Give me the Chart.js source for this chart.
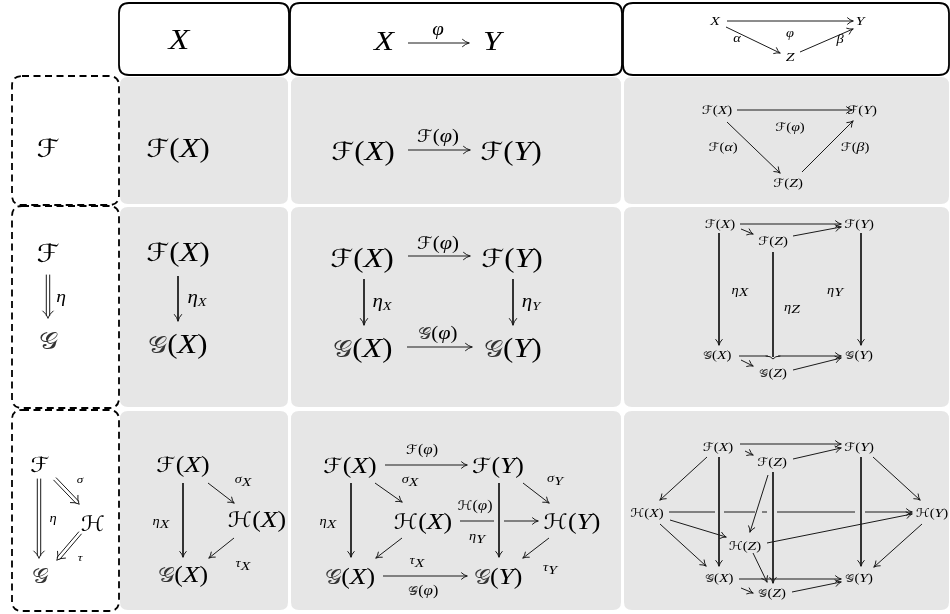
<!DOCTYPE html>
<html><head><meta charset="utf-8">
<script src="https://cdn.jsdelivr.net/npm/chart.js@4.4.1/dist/chart.umd.min.js"></script>
<style>html,body{margin:0;padding:0;background:#fff}canvas{display:block}</style>
</head><body>
<canvas id="c" width="950" height="614"></canvas>
<script>
// ---------- table structure ----------
const columnEdges = [[120, 288], [291, 621], [624, 949]];
const rowEdges = [[77, 204], [207, 407], [411, 610]];
const headerEdges = [[119, 289], [290, 622], [623, 949]];
const headerRow = [3, 75];
const rowLabelX = [12, 119];
const rowLabelEdges = [[76, 205], [206, 408], [410, 611]];

// ---------- text (objects of the diagrams) ----------
const headerText = [
  {t:'X', x:179, y:40, s:26},
  {t:'X', x:384, y:41, s:25}, {t:'Y', x:492, y:41, s:25}, {t:'φ', x:438, y:30, s:16},
  {t:'X', x:715, y:21, s:12}, {t:'Y', x:860, y:21, s:12}, {t:'Z', x:790, y:57, s:12},
  {t:'φ', x:790, y:33, s:11}, {t:'α', x:737, y:38, s:11}, {t:'β', x:840, y:39, s:11}
];
const row1Text = [
  {t:'F', x:48, y:148, s:25},
  {t:'F(X)', x:178, y:148, s:25},
  {t:'F(X)', x:363, y:151, s:25}, {t:'F(Y)', x:511, y:151, s:25}, {t:'F(φ)', x:438, y:136, s:17},
  {t:'F(X)', x:717, y:110, s:12}, {t:'F(Y)', x:862, y:110, s:12}, {t:'F(Z)', x:788, y:183, s:12},
  {t:'F(φ)', x:790, y:127, s:12}, {t:'F(α)', x:723, y:147, s:12}, {t:'F(β)', x:855, y:147, s:12}
];
const row2Text = [
  {t:'F', x:48, y:253, s:25}, {t:'G', x:48, y:340, s:25}, {t:'η', x:61, y:297, s:15},
  {t:'F(X)', x:178, y:252, s:25}, {t:'G(X)', x:178, y:344, s:25}, {t:'η_X', x:197, y:298, s:16, sub:[11, 3]},
  {t:'F(X)', x:362, y:258, s:25}, {t:'F(Y)', x:512, y:258, s:25}, {t:'F(φ)', x:438, y:243, s:17},
  {t:'η_X', x:382, y:302, s:16, sub:[11, 3]}, {t:'η_Y', x:531, y:302, s:16, sub:[11, 3]},
  {t:'G(X)', x:363, y:348, s:25}, {t:'G(Y)', x:513, y:348, s:25}, {t:'G(φ)', x:438, y:333, s:17},
  {t:'F(X)', x:720, y:224, s:12}, {t:'F(Z)', x:773, y:241, s:12}, {t:'F(Y)', x:859, y:224, s:12},
  {t:'G(X)', x:717, y:355, s:12}, {t:'G(Z)', x:773, y:373, s:12}, {t:'G(Y)', x:859, y:355, s:12},
  {t:'η_X', x:740, y:290, s:11, sub:[12, 2]}, {t:'η_Z', x:792, y:307, s:11, sub:[12, 2]}, {t:'η_Y', x:835, y:290, s:11, sub:[12, 2]}
];
const row3Text = [
  {t:'F', x:40, y:465, s:21}, {t:'H', x:93, y:524, s:21}, {t:'G', x:40, y:576, s:21},
  {t:'η', x:53, y:518, s:11}, {t:'σ', x:80, y:480, s:10}, {t:'τ', x:80, y:558, s:10},
  {t:'F(X)', x:183, y:465, s:21}, {t:'H(X)', x:257, y:520, s:21}, {t:'G(X)', x:183, y:575, s:21},
  {t:'η_X', x:161, y:521, s:11, sub:[12, 3]}, {t:'σ_X', x:243, y:479, s:11, sub:[12, 3]}, {t:'τ_X', x:243, y:563, s:11, sub:[12, 3]},
  {t:'F(X)', x:350, y:466, s:21}, {t:'F(Y)', x:498, y:466, s:21}, {t:'H(X)', x:423, y:522, s:21},
  {t:'H(Y)', x:572, y:522, s:21}, {t:'G(X)', x:350, y:577, s:21}, {t:'G(Y)', x:498, y:577, s:21},
  {t:'F(φ)', x:422, y:450, s:13}, {t:'H(φ)', x:475, y:506, s:13}, {t:'G(φ)', x:423, y:591, s:13},
  {t:'σ_X', x:410, y:479, s:11, sub:[12, 3]}, {t:'η_Y', x:477, y:536, s:11, sub:[12, 3]},
  {t:'σ_Y', x:555, y:478, s:11, sub:[12, 3]}, {t:'τ_X', x:417, y:560, s:11, sub:[12, 3]},
  {t:'τ_Y', x:550, y:567, s:11, sub:[12, 3]}, {t:'η_X', x:328, y:521, s:11, sub:[12, 3]},
  {t:'F(X)', x:718, y:447, s:12}, {t:'F(Z)', x:772, y:462, s:12}, {t:'F(Y)', x:859, y:447, s:12},
  {t:'H(X)', x:647, y:513, s:12}, {t:'H(Z)', x:745, y:546, s:12}, {t:'H(Y)', x:932, y:513, s:12},
  {t:'G(X)', x:719, y:578, s:12}, {t:'G(Z)', x:772, y:593, s:12}, {t:'G(Y)', x:859, y:578, s:12}
];

// ---------- morphisms (arrows: from -> to) ----------
const headerArrows = [
  {p:[408,43,469,43], h:7}, {p:[727,21,853,21]}, {p:[726,27,780,53]}, {p:[800,52,853,29]}
];
const row1Arrows = [
  {p:[408,150,470,150], h:7},
  {p:[737,110,852,110]}, {p:[727,122,780,173]}, {p:[802,172,853,121]}
];
const row2Arrows = [
  {p:[178,276,178,321], h:7},
  {p:[408,256,470,256], h:7}, {p:[364,279,364,325], h:7}, {p:[513,279,513,325], h:7}, {p:[407,347,472,347], h:7},
  {p:[740,224,841,224]}, {p:[741,229,753,234]}, {p:[793,236,841,227]},
  {p:[719,233,719,345]}, {p:[773,252,773,357], noHead:true}, {p:[861,233,861,345]},
  {p:[739,356,841,356], gaps:[[773,5]]}, {p:[741,360,753,366]}, {p:[793,370,841,358]}
];
const row3Arrows = [
  {p:[183,483,183,557]}, {p:[208,483,234,503]}, {p:[234,538,209,558]},
  {p:[385,465,467,465]}, {p:[351,483,351,557]}, {p:[499,483,499,557]},
  {p:[375,483,402,502]}, {p:[523,483,549,503]}, {p:[402,538,376,558]}, {p:[549,538,523,558]},
  {p:[383,576,467,576]}, {p:[460,521,538,521], gaps:[[499,5]]},
  {p:[740,444,841,444]}, {p:[745,451,753,455]}, {p:[793,459,841,448]},
  {p:[707,457,660,500]}, {p:[873,457,920,500]},
  {p:[719,457,719,566]}, {p:[861,457,861,566]},
  {p:[768,475,750,532]}, {p:[773,472,773,583]},
  {p:[669,512,912,512], gaps:[[719.5,4.5],[758.5,3.5],[772,5],[860,5]]},
  {p:[670,520,726,537]}, {p:[660,524,706,566]}, {p:[922,524,874,567]},
  {p:[767,543,912,514]}, {p:[753,553,767,582]},
  {p:[739,579,841,579]}, {p:[741,588,753,593]}, {p:[792,592,841,582]}
];
// 2-cells (natural transformations, double arrows)
const doubleArrows = [
  [48,275,48,318], [39,479,39,558], [55,479,79,504], [80,533,57,560]
];

const allText = [...headerText, ...row1Text, ...row2Text, ...row3Text];
const allArrows = [...headerArrows, ...row1Arrows, ...row2Arrows, ...row3Arrows];

// ---------- build line segments (with gaps for crossings) ----------
function segmentsOf(a) {
  const [x1,y1,x2,y2] = a.p;
  const cuts = (a.gaps || []).map(([c,h]) => [(c-h-x1)/(x2-x1), (c+h-x1)/(x2-x1)]).sort((u,v)=>u[0]-v[0]);
  const segs = []; let t0 = 0;
  cuts.forEach(([ta,tb]) => { segs.push([t0, ta]); t0 = tb; });
  segs.push([t0, 1]);
  return segs.map(([ta,tb]) => [
    {x: x1 + (x2-x1)*ta, y: y1 + (y2-y1)*ta},
    {x: x1 + (x2-x1)*tb, y: y1 + (y2-y1)*tb}
  ]);
}
const LINE = '#1a1a1a';
const arrowDatasets = [];
allArrows.forEach(a => segmentsOf(a).forEach(seg => arrowDatasets.push({
  type:'line', data: seg, borderColor: LINE, borderWidth: 1, pointRadius: 0,
  fill:false, tension:0, order: 2
})));

// ---------- math text renderer ----------
const CAL = {F:'ℱ', G:'𝒢', H:'ℋ'};
const SERIF = "'Liberation Serif', 'DejaVu Serif', serif";
const STRETCH = 1.17;
function runsOf(item) {
  const s = item.s, runs = [];
  const chars = Array.from(item.t);
  for (let i = 0; i < chars.length; i++) {
    let c = chars[i], size = s, dy = 0, color = '#000';
    if (c === '_') { i++; c = chars[i]; size = item.sub[0]; dy = item.sub[1]; }
    let font;
    if (CAL[c]) {
      const k = c === 'G' ? 0.93 : 1.0;
      if (c === 'G') color = '#333';
      font = `${size*k}px 'DejaVu Sans', 'DejaVu Serif', serif`; c = CAL[c];
    }
    else if (c === '(' || c === ')') font = `${size*1.05}px ${SERIF}`;
    else font = `italic ${size*1.12}px ${SERIF}`;
    runs.push({c, font, dy, color});
  }
  return runs;
}
function drawMath(ctx, item, cx, cy) {
  const runs = runsOf(item);
  let w = 0;
  runs.forEach(r => { ctx.font = r.font; r.w = ctx.measureText(r.c).width; w += r.w; });
  ctx.save();
  ctx.translate(cx, cy + item.s*0.34);
  ctx.scale(STRETCH, 1);
  let x = -w/2;
  ctx.textBaseline = 'alphabetic';
  ctx.textAlign = 'left';
  runs.forEach(r => { ctx.font = r.font; ctx.fillStyle = r.color; ctx.fillText(r.c, x, r.dy); x += r.w; });
  ctx.restore();
}

function rr(ctx, x, y, w, h, r) {
  ctx.beginPath();
  ctx.moveTo(x+r, y); ctx.lineTo(x+w-r, y); ctx.quadraticCurveTo(x+w, y, x+w, y+r);
  ctx.lineTo(x+w, y+h-r); ctx.quadraticCurveTo(x+w, y+h, x+w-r, y+h);
  ctx.lineTo(x+r, y+h); ctx.quadraticCurveTo(x, y+h, x, y+h-r);
  ctx.lineTo(x, y+r); ctx.quadraticCurveTo(x, y, x+r, y); ctx.closePath();
}
function arrowHead(ctx, x1, y1, x2, y2, L, W) {
  const d = Math.hypot(x2-x1, y2-y1), ux = (x2-x1)/d, uy = (y2-y1)/d, nx = -uy, ny = ux;
  ctx.beginPath();
  [1,-1].forEach(sg => {
    ctx.moveTo(x2, y2);
    ctx.quadraticCurveTo(x2 - ux*L*0.55 + sg*nx*W*0.25, y2 - uy*L*0.55 + sg*ny*W*0.25,
                         x2 - ux*L + sg*nx*W, y2 - uy*L + sg*ny*W);
  });
  ctx.stroke();
}

const diagramPlugin = {
  id: 'diagram',
  beforeDatasetsDraw(chart) {
    const ctx = chart.ctx, X = chart.scales.x, Y = chart.scales.y;
    const px = v => X.getPixelForValue(v), py = v => Y.getPixelForValue(v);
    ctx.save();
    ctx.fillStyle = '#e6e6e6';
    rowEdges.forEach(([r0,r1]) => columnEdges.forEach(([c0,c1]) => {
      rr(ctx, px(c0), py(r0), px(c1)-px(c0), py(r1)-py(r0), 8); ctx.fill();
    }));
    ctx.lineWidth = 1.8; ctx.strokeStyle = '#000';
    headerEdges.forEach(([c0,c1]) => {
      rr(ctx, px(c0), py(headerRow[0]), px(c1)-px(c0), py(headerRow[1])-py(headerRow[0]), 10);
      ctx.fillStyle = '#fff'; ctx.fill(); ctx.stroke();
    });
    ctx.setLineDash([7,4.5]);
    rowLabelEdges.forEach(([r0,r1]) => {
      rr(ctx, px(rowLabelX[0]), py(r0), px(rowLabelX[1])-px(rowLabelX[0]), py(r1)-py(r0), 10);
      ctx.stroke();
    });
    ctx.restore();
  },
  afterDatasetsDraw(chart) {
    const ctx = chart.ctx, X = chart.scales.x, Y = chart.scales.y;
    const px = v => X.getPixelForValue(v), py = v => Y.getPixelForValue(v);
    ctx.save();
    ctx.strokeStyle = LINE; ctx.lineWidth = 1; ctx.lineCap = 'round';
    allArrows.forEach(a => {
      if (a.noHead) return;
      const [x1,y1,x2,y2] = a.p;
      const big = a.h ? 1 : 0;
      arrowHead(ctx, px(x1), py(y1), px(x2), py(y2), big ? 6.5 : 5.5, big ? 3.6 : 3.2);
    });
    ctx.beginPath();
    ctx.moveTo(px(766), py(356)); ctx.quadraticCurveTo(px(771), py(356), px(773), py(359));
    ctx.quadraticCurveTo(px(775), py(356), px(780), py(356)); ctx.stroke();
    doubleArrows.forEach(([x1,y1,x2,y2]) => {
      const a = px(x1), b = py(y1), c = px(x2), d = py(y2);
      const L = Math.hypot(c-a, d-b), ux = (c-a)/L, uy = (d-b)/L, nx = -uy, ny = ux;
      ctx.beginPath();
      [1.7,-1.7].forEach(o => {
        ctx.moveTo(a + nx*o, b + ny*o);
        ctx.lineTo(c - ux*2.5 + nx*o, d - uy*2.5 + ny*o);
      });
      ctx.stroke();
      arrowHead(ctx, a, b, c, d, 7, 5.2);
    });
    const meta = chart.getDatasetMeta(0);
    meta.data.forEach((el, i) => drawMath(ctx, allText[i], el.x, el.y));
    ctx.restore();
  }
};

new Chart(document.getElementById('c'), {
  type: 'scatter',
  data: {
    datasets: [
      {label: 'objects', data: allText.map(o => ({x: o.x, y: o.y})), pointRadius: 0, showLine: false, order: 1},
      ...arrowDatasets
    ]
  },
  options: {
    responsive: false, animation: false, events: [],
    layout: {padding: 0},
    plugins: {legend: {display: false}, tooltip: {enabled: false}},
    scales: {
      x: {type: 'linear', min: 0, max: 950, display: false},
      y: {type: 'linear', min: 0, max: 614, reverse: true, display: false}
    }
  },
  plugins: [diagramPlugin]
});
</script>
</body></html>
